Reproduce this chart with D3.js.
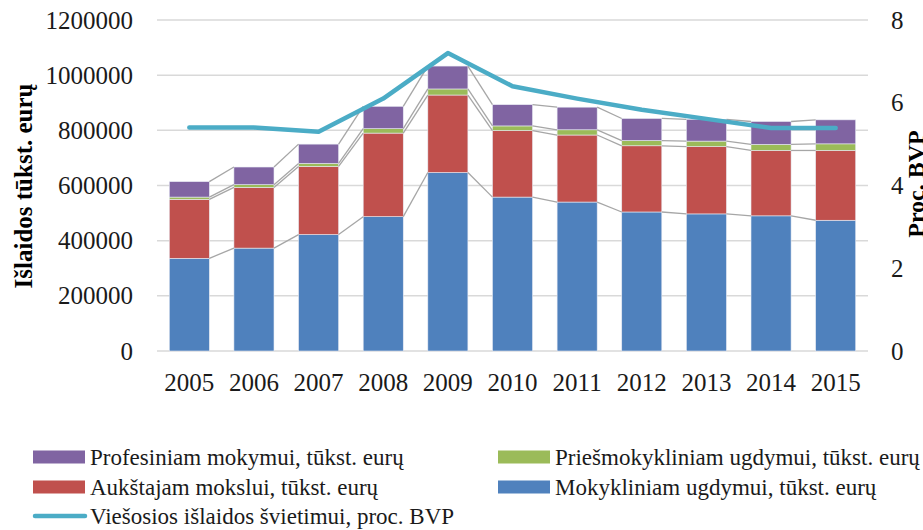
<!DOCTYPE html>
<html>
<head>
<meta charset="utf-8">
<script src="https://cdn.jsdelivr.net/npm/d3@7"></script>
<style>
  body { margin: 0; background: #fff; }
  svg { display: block; font-family: "Liberation Serif", "DejaVu Serif", serif; }
</style>
</head>
<body>
<svg id="chart" width="923" height="530"></svg>
<script>
const years = ["2005", "2006", "2007", "2008", "2009", "2010", "2011", "2012", "2013", "2014", "2015"];
const mokykliniam = [336000, 373000, 422000, 487000, 647000, 558000, 540000, 504000, 497000, 490000, 474000];
const aukstajam = [214000, 220000, 247000, 303000, 281000, 241000, 243000, 240000, 244000, 237000, 253000];
const priesmokykliniam = [8000, 10000, 11000, 16000, 22000, 17000, 19000, 19000, 20000, 22000, 24000];
const profesiniam = [56000, 64000, 70000, 81000, 83000, 77000, 82000, 80000, 79000, 83000, 87000];
const bvp = [5.4, 5.4, 5.3, 6.1, 7.2, 6.4, 6.1, 5.83, 5.61, 5.39, 5.39];
const leftTicks = [0, 200000, 400000, 600000, 800000, 1000000, 1200000];
const rightTicks = [0, 2, 4, 6, 8];

const svg = d3.select('#chart');
const margin = { left: 157, right: 868, top: 20, bottom: 351 };

var x = d3.scaleBand()
  .domain(years)
  .range([margin.left, margin.right])
  .paddingInner(0.38)
  .paddingOuter(0.19);
var y = d3.scaleLinear().domain([0, 1200000]).range([margin.bottom, margin.top]);
var y2 = d3.scaleLinear().domain([0, 8]).range([margin.bottom, margin.top]);

// gridlines
svg.append('g')
  .selectAll('line')
  .data(leftTicks)
  .enter().append('line')
  .attr('x1', margin.left)
  .attr('x2', margin.right)
  .attr('y1', d => y(d))
  .attr('y2', d => y(d))
  .attr('stroke', '#d9d9d9')
  .attr('stroke-width', 1.5);

// stack
var rows = years.map(function (yr, i) {
  return { year: yr, mok: mokykliniam[i], auk: aukstajam[i], pri: priesmokykliniam[i], pro: profesiniam[i] };
});
var keys = ['mok', 'auk', 'pri', 'pro'];
var colors = { mok: '#4F81BD', auk: '#C0504D', pri: '#9BBB59', pro: '#8064A2' };
var series = d3.stack().keys(keys)(rows);

svg.append('g')
  .selectAll('g')
  .data(series)
  .enter().append('g')
  .attr('fill', d => colors[d.key])
  .selectAll('rect')
  .data(d => d)
  .enter().append('rect')
  .attr('x', d => x(d.data.year))
  .attr('y', d => y(d[1]))
  .attr('width', x.bandwidth())
  .attr('height', d => y(d[0]) - y(d[1]))
  .attr('stroke', '#e8ecf4')
  .attr('stroke-width', 0.6);

// series lines between bars
var segs = [];
series.forEach(function (s) {
  for (let i = 0; i < s.length - 1; i++) {
    segs.push({ x1: x(years[i]) + x.bandwidth(), y1: y(s[i][1]), x2: x(years[i + 1]), y2: y(s[i + 1][1]) });
  }
});
svg.append('g')
  .selectAll('line')
  .data(segs)
  .enter().append('line')
  .attr('x1', d => d.x1)
  .attr('y1', d => d.y1)
  .attr('x2', d => d.x2)
  .attr('y2', d => d.y2)
  .attr('stroke', '#a6a6a6')
  .attr('stroke-width', 1.3);

// line on right axis
var line = d3.line()
  .x((d, i) => x(years[i]) + x.bandwidth() / 2)
  .y(d => y2(d));
svg.append('path')
  .datum(bvp)
  .attr('d', line)
  .attr('fill', 'none')
  .attr('stroke', '#4BACC6')
  .attr('stroke-width', 4.5)
  .attr('stroke-linecap', 'round')
  .attr('stroke-linejoin', 'round');

// axes
var yAxis = d3.axisLeft(y).tickValues(leftTicks).tickSize(0).tickPadding(0).tickFormat(d3.format('d'));
var gy = svg.append('g').attr('transform', 'translate(133,0)').call(yAxis);
var yAxis2 = d3.axisRight(y2).tickValues(rightTicks).tickSize(0).tickPadding(0).tickFormat(d3.format('d'));
var gy2 = svg.append('g').attr('transform', 'translate(891,0)').call(yAxis2);
var xAxis = d3.axisBottom(x).tickSize(0).tickPadding(0);
var gx = svg.append('g').attr('transform', 'translate(0,' + 373 + ')').call(xAxis);

[gy, gy2, gx].forEach(function (g) {
  g.select('.domain').remove();
  g.selectAll('text')
    .style('font-family', '"Liberation Serif", serif')
    .style('font-size', '25px')
    .attr('fill', '#1a1a1a');
});
gx.selectAll('text').attr('dy', '0.72em');

// axis titles
svg.append('text')
  .attr('transform', 'translate(32,186) rotate(-90)')
  .attr('text-anchor', 'middle')
  .style('font-size', '25px')
  .style('font-weight', 'bold')
  .text('Išlaidos tūkst. eurų');
svg.append('text')
  .attr('transform', 'translate(924,184) rotate(-90)')
  .attr('text-anchor', 'middle')
  .style('font-size', '24px')
  .style('font-weight', 'bold')
  .text('Proc. BVP');

// legend
var legendItems = [
  { label: 'Profesiniam mokymui, tūkst. eurų', color: colors.pro, type: 'rect', lx: 33, ly: 457 },
  { label: 'Priešmokykliniam ugdymui, tūkst. eurų', color: colors.pri, type: 'rect', lx: 498, ly: 457 },
  { label: 'Aukštajam mokslui, tūkst. eurų', color: colors.auk, type: 'rect', lx: 33, ly: 487 },
  { label: 'Mokykliniam ugdymui, tūkst. eurų', color: colors.mok, type: 'rect', lx: 498, ly: 487 },
  { label: 'Viešosios išlaidos švietimui, proc. BVP', color: '#4BACC6', type: 'line', lx: 33, ly: 516 }
];
var lg = svg.append('g').selectAll('g')
  .data(legendItems)
  .enter().append('g')
  .attr('transform', d => 'translate(' + d.lx + ',' + d.ly + ')');
lg.filter(d => d.type == 'rect').append('rect')
  .attr('x', 0).attr('y', -6.5).attr('width', 52).attr('height', 13)
  .attr('fill', d => d.color);
lg.filter(d => d.type == 'line').append('line')
  .attr('x1', 2).attr('x2', 52).attr('y1', 0).attr('y2', 0)
  .attr('stroke', d => d.color).attr('stroke-width', 4.5).attr('stroke-linecap', 'round');
lg.append('text')
  .attr('x', 57)
  .attr('dy', '0.35em')
  .style('font-size', '23px')
  .attr('fill', '#1a1a1a')
  .text(d => d.label);
</script>
</body>
</html>
